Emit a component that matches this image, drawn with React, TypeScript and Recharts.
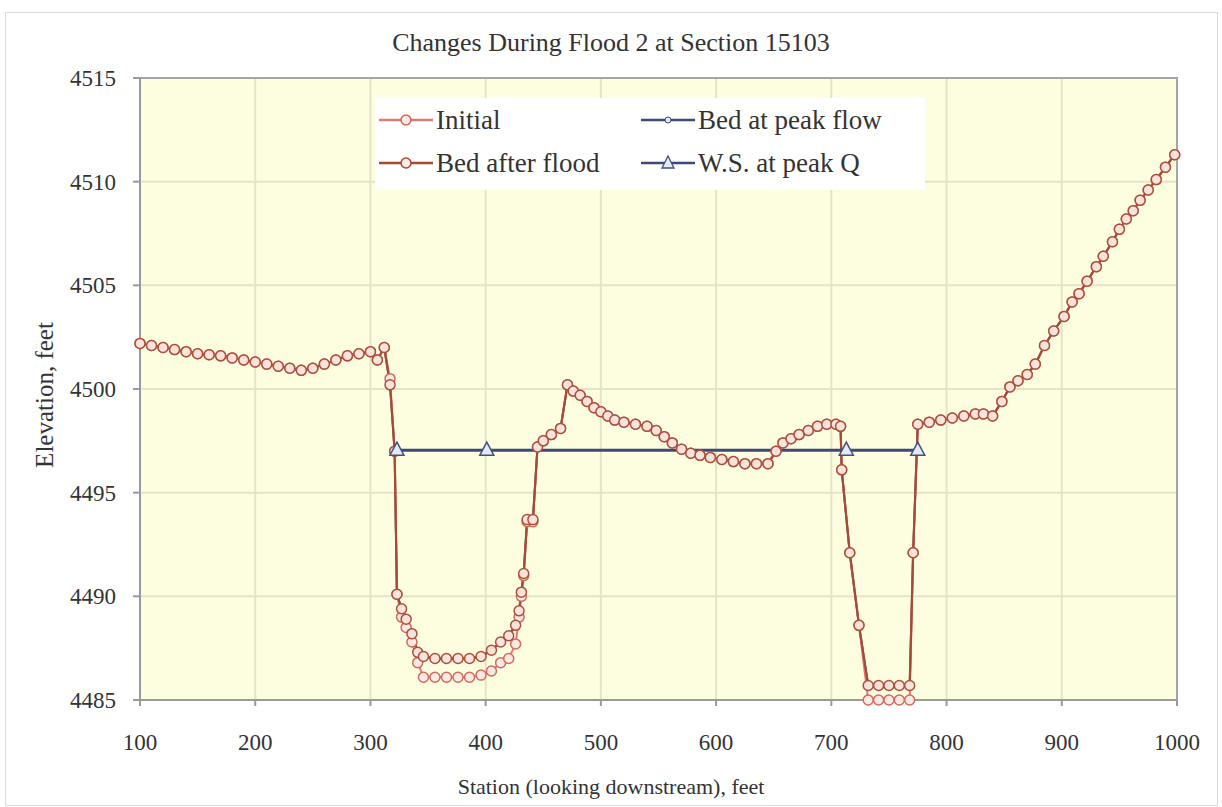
import React from 'react';
import { LineChart, Line, XAxis, YAxis, CartesianGrid, ReferenceArea } from 'recharts';

// cross-section survey points (station, feet)
const STATIONS = [
  100, 110, 120, 130, 140, 150, 160, 170, 180, 190, 200, 210, 220, 230, 240, 250, 260, 270, 280, 290,
  300, 306, 312, 317, 321, 323, 327, 331, 336, 341, 346, 356, 366, 376, 386, 396, 405, 413, 420, 426,
  429, 431, 433, 436, 441, 445, 450, 457, 465, 471, 476, 482, 488, 494, 500, 506, 512, 520, 530, 540,
  548, 555, 562, 570, 578, 586, 595, 605, 615, 625, 635, 645, 652, 658, 665, 672, 680, 688, 696, 704,
  708, 709, 716, 724, 732, 741, 750, 759, 768, 771, 775, 785, 795, 805, 815, 825, 832, 840, 848, 855,
  862, 870, 877, 885, 893, 902, 909, 915, 922, 930, 936, 944, 950, 956, 962, 968, 975, 982, 990, 998,
];

const INITIAL = [
  4502.2, 4502.1, 4502.0, 4501.9, 4501.8, 4501.7, 4501.65, 4501.6, 4501.5, 4501.4, 4501.3, 4501.2, 4501.1, 4501.0, 4500.9, 4501.0, 4501.2, 4501.4, 4501.6, 4501.7,
  4501.8, 4501.4, 4502.0, 4500.5, 4497.0, 4490.1, 4489.0, 4488.5, 4487.8, 4486.8, 4486.1, 4486.1, 4486.1, 4486.1, 4486.1, 4486.2, 4486.4, 4486.8, 4487.0, 4487.7,
  4489.0, 4490.0, 4491.0, 4493.6, 4493.6, 4497.2, 4497.5, 4497.8, 4498.1, 4500.2, 4499.9, 4499.7, 4499.4, 4499.1, 4498.9, 4498.7, 4498.5, 4498.4, 4498.3, 4498.2,
  4498.0, 4497.7, 4497.4, 4497.1, 4496.9, 4496.8, 4496.7, 4496.6, 4496.5, 4496.4, 4496.4, 4496.4, 4497.0, 4497.4, 4497.6, 4497.8, 4498.0, 4498.2, 4498.3, 4498.3,
  4498.2, 4496.1, 4492.1, 4488.6, 4485.0, 4485.0, 4485.0, 4485.0, 4485.0, 4492.1, 4498.3, 4498.4, 4498.5, 4498.6, 4498.7, 4498.8, 4498.8, 4498.7, 4499.4, 4500.1,
  4500.4, 4500.7, 4501.2, 4502.1, 4502.8, 4503.5, 4504.2, 4504.6, 4505.2, 4505.9, 4506.4, 4507.1, 4507.7, 4508.2, 4508.6, 4509.1, 4509.6, 4510.1, 4510.7, 4511.3,
];

const BED_AFTER = [
  4502.2, 4502.1, 4502.0, 4501.9, 4501.8, 4501.7, 4501.65, 4501.6, 4501.5, 4501.4, 4501.3, 4501.2, 4501.1, 4501.0, 4500.9, 4501.0, 4501.2, 4501.4, 4501.6, 4501.7,
  4501.8, 4501.4, 4502.0, 4500.2, 4497.0, 4490.1, 4489.4, 4488.9, 4488.2, 4487.3, 4487.1, 4487.0, 4487.0, 4487.0, 4487.0, 4487.1, 4487.4, 4487.8, 4488.1, 4488.6,
  4489.3, 4490.2, 4491.1, 4493.7, 4493.7, 4497.2, 4497.5, 4497.8, 4498.1, 4500.2, 4499.9, 4499.7, 4499.4, 4499.1, 4498.9, 4498.7, 4498.5, 4498.4, 4498.3, 4498.2,
  4498.0, 4497.7, 4497.4, 4497.1, 4496.9, 4496.8, 4496.7, 4496.6, 4496.5, 4496.4, 4496.4, 4496.4, 4497.0, 4497.4, 4497.6, 4497.8, 4498.0, 4498.2, 4498.3, 4498.3,
  4498.2, 4496.1, 4492.1, 4488.6, 4485.7, 4485.7, 4485.7, 4485.7, 4485.7, 4492.1, 4498.3, 4498.4, 4498.5, 4498.6, 4498.7, 4498.8, 4498.8, 4498.7, 4499.4, 4500.1,
  4500.4, 4500.7, 4501.2, 4502.1, 4502.8, 4503.5, 4504.2, 4504.6, 4505.2, 4505.9, 4506.4, 4507.1, 4507.7, 4508.2, 4508.6, 4509.1, 4509.6, 4510.1, 4510.7, 4511.3,
];

// bed at peak flow sits under the bed-after-flood line in the picture
const BED_PEAK = BED_AFTER;

const WS_STATIONS = [323, 401, 713, 775];
const WS_ELEV = [4497.05, 4497.05, 4497.05, 4497.05];

const X_TICKS = [100, 200, 300, 400, 500, 600, 700, 800, 900, 1000];
const Y_TICKS = [4485, 4490, 4495, 4500, 4505, 4510, 4515];

const bedRows = STATIONS.map((x, i) => ({ x, initial: INITIAL[i], after: BED_AFTER[i], peak: BED_PEAK[i] }));
const wsRows = WS_STATIONS.map((x, i) => ({ x, ws: WS_ELEV[i] }));

const FONT = '"Liberation Serif", "Times New Roman", serif';
const TEXT = '#333';

const Triangle = (props: any) => {
  const { cx, cy } = props;
  if (cx == null || cy == null) return null;
  return (
    <path
      d={`M${cx},${cy - 8} L${cx + 7},${cy + 5} L${cx - 7},${cy + 5} Z`}
      fill="#e2eaf6"
      stroke="#44507f"
      strokeWidth={1.5}
    />
  );
};

const LEGEND_ITEMS = [
  { name: 'Initial', line: '#e07a70', marker: 'circle', stroke: '#d0665a', left: 0, top: 0 },
  { name: 'Bed after flood', line: '#a44a36', marker: 'circle', stroke: '#a44a36', left: 0, top: 43 },
  { name: 'Bed at peak flow', line: '#3c4a78', marker: 'dot', stroke: '#3c4a78', left: 262, top: 0 },
  { name: 'W.S. at peak Q', line: '#3c4a78', marker: 'triangle', stroke: '#44507f', left: 262, top: 43 },
];

const LegendBox = () => (
  <div style={{ position: 'absolute', left: 375, top: 98, width: 550, height: 92, background: '#fff', fontFamily: FONT }}>
    {LEGEND_ITEMS.map((it) => (
      <div
        key={it.name}
        style={{ position: 'absolute', left: it.left + 4, top: it.top + 5, display: 'flex', alignItems: 'center', height: 34 }}
      >
        <svg width={54} height={20}>
          <line x1={0} y1={10} x2={54} y2={10} stroke={it.line} strokeWidth={2.5} />
          {it.marker === 'circle' && <circle cx={27} cy={10} r={5} fill="#fde9e4" stroke={it.stroke} strokeWidth={1.5} />}
          {it.marker === 'dot' && <circle cx={27} cy={10} r={3} fill="#e2eaf6" stroke={it.stroke} strokeWidth={1} />}
          {it.marker === 'triangle' && (
            <path d="M27,3 L33,15 L21,15 Z" fill="#e2eaf6" stroke={it.stroke} strokeWidth={1.3} />
          )}
        </svg>
        <span style={{ marginLeft: 3, fontSize: 27, color: TEXT, whiteSpace: 'nowrap' }}>{it.name}</span>
      </div>
    ))}
  </div>
);

export default function App() {
  return (
    <div style={{ position: 'absolute', left: 0, top: 0, width: 1222, height: 807, background: '#fff' }}>
      <div style={{ position: 'absolute', left: 5, top: 12, width: 1211, height: 792, border: '1px solid #dcdcdc' }} />
      <LineChart width={1222} height={807} margin={{ top: 78, right: 45, bottom: 45, left: 0 }}>
        <CartesianGrid stroke="#e6e3c6" strokeWidth={2} fill="#fdfddf" />
        <XAxis
          dataKey="x"
          type="number"
          domain={[100, 1000]}
          ticks={X_TICKS}
          height={62}
          tickSize={6}
          tickMargin={28}
          stroke="#9a9a9a"
          strokeWidth={2}
          tick={{ fontSize: 23, fill: TEXT, fontFamily: FONT }}
        />
        <YAxis
          type="number"
          domain={[4485, 4515]}
          ticks={Y_TICKS}
          width={140}
          tickSize={7}
          tickMargin={17}
          stroke="#9a9a9a"
          strokeWidth={2}
          tick={{ fontSize: 23, fill: TEXT, fontFamily: FONT }}
        />
        <ReferenceArea x1={100} x2={1000} y1={4485} y2={4515} fill="none" stroke="#a5a5a5" strokeWidth={2} />
        <Line
          data={bedRows}
          dataKey="peak"
          name="Bed at peak flow"
          stroke="#3c4a78"
          strokeWidth={2}
          dot={false}
          isAnimationActive={false}
        />
        <Line
          data={bedRows}
          dataKey="initial"
          name="Initial"
          stroke="#e07a70"
          strokeWidth={2}
          dot={{ r: 5, fill: '#fde9e4', stroke: '#cf6a5c', strokeWidth: 1.5 }}
          isAnimationActive={false}
        />
        <Line
          data={bedRows}
          dataKey="after"
          name="Bed after flood"
          stroke="#a44a36"
          strokeWidth={2.2}
          dot={{ r: 5, fill: '#fbe3dc', stroke: '#a9503c', strokeWidth: 1.5 }}
          isAnimationActive={false}
        />
        <Line
          data={wsRows}
          dataKey="ws"
          name="W.S. at peak Q"
          stroke="#3c4a78"
          strokeWidth={3}
          dot={<Triangle />}
          isAnimationActive={false}
        />
      </LineChart>
      <LegendBox />
      <div
        style={{ position: 'absolute', left: 0, width: 1222, top: 28, textAlign: 'center', fontFamily: FONT, fontSize: 26, color: TEXT }}
      >
        Changes During Flood 2 at Section 15103
      </div>
      <div
        style={{ position: 'absolute', left: 0, width: 1222, top: 774, textAlign: 'center', fontFamily: FONT, fontSize: 22, color: TEXT }}
      >
        Station (looking downstream), feet
      </div>
      <div
        style={{
          position: 'absolute',
          left: 45,
          top: 395,
          transform: 'translate(-50%, -50%) rotate(-90deg)',
          fontFamily: FONT,
          fontSize: 25,
          color: TEXT,
          whiteSpace: 'nowrap',
        }}
      >
        Elevation,  feet
      </div>
    </div>
  );
}
